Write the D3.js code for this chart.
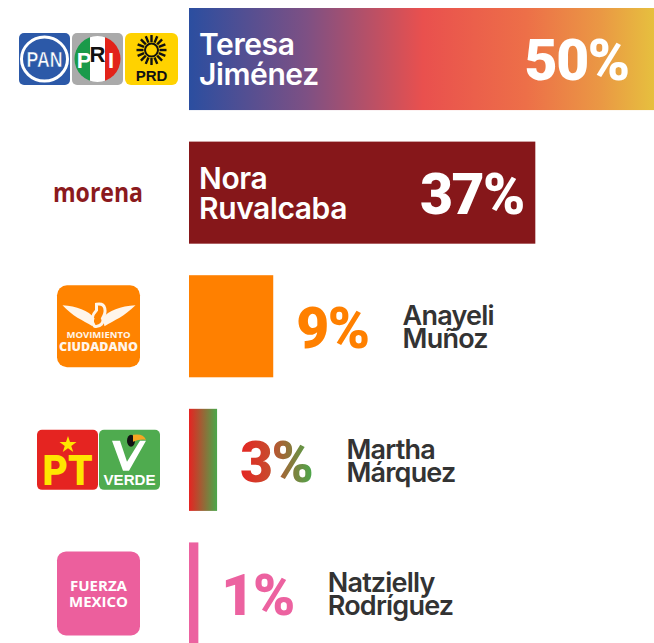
<!DOCTYPE html>
<html>
<head>
<meta charset="utf-8">
<script src="https://cdn.jsdelivr.net/npm/d3@7"></script>
<style>
  body { margin: 0; background: #fff; }
  svg { display: block; }
</style>
</head>
<body>
<div id="chart"></div>
<script>
(function() {
    // candidates, top to bottom
    var firstNames = ['Teresa', 'Nora', 'Anayeli', 'Martha', 'Natzielly'];
    var lastNames = ['Jiménez', 'Ruvalcaba', 'Muñoz', 'Márquez', 'Rodríguez'];
    var parties = ['PAN-PRI-PRD', 'Morena', 'MC', 'PT-PVEM', 'FXM'];
    var shares = [50, 37, 9, 3, 1];

    var WIDTH = 654, HEIGHT = 643;
    var BAR_LEFT = 189;
    var NAME_FONT = 'Inter, "Open Sans", sans-serif';
    var PCT_FONT = 'Roboto, Lato, sans-serif';
    var PCT_SPACING = -1.5;

    var fills = {
        'PAN-PRI-PRD': 'url(#gradAlianza)',
        'Morena': '#86171a',
        'MC': '#ff8000',
        'PT-PVEM': 'url(#gradPT)',
        'FXM': '#ec62a0'
    };
    var pctColors = {
        'MC': '#ff8000',
        'PT-PVEM': 'url(#gradPTText)',
        'FXM': '#ec62a0'
    };

    var rows = parties.map(function(p, i) {
        return {party: p, first: firstNames[i], last: lastNames[i], value: shares[i]};
    });

    var x = d3.scaleLinear().domain([0, 50]).range([BAR_LEFT, BAR_LEFT + 468]);
    var y = d3.scaleBand().domain(parties).range([8, 644.5]).paddingInner(0.236).paddingOuter(0);

    var svg = d3.select('#chart').append('svg')
        .attr('width', WIDTH)
        .attr('height', HEIGHT);

    var defs = svg.append('defs');
    var g1 = defs.append('linearGradient').attr('id', 'gradAlianza');
    [['0%', '#2b4ea0'], ['25%', '#7d5084'], ['50%', '#e9504e'], ['72%', '#ed6f48'], ['88%', '#ea9844'], ['100%', '#e6c23e']]
        .forEach(function(s) { g1.append('stop').attr('offset', s[0]).attr('stop-color', s[1]); });
    var g2 = defs.append('linearGradient').attr('id', 'gradPT');
    g2.append('stop').attr('offset', '0%').attr('stop-color', '#e52422');
    g2.append('stop').attr('offset', '100%').attr('stop-color', '#4aa84b');
    var g3 = defs.append('linearGradient').attr('id', 'gradPTText');
    g3.append('stop').attr('offset', '0%').attr('stop-color', '#e52422');
    g3.append('stop').attr('offset', '40%').attr('stop-color', '#c94a2d');
    g3.append('stop').attr('offset', '100%').attr('stop-color', '#4aa84b');

    // bars
    svg.selectAll('rect.bar')
        .data(rows)
        .enter().append('rect')
        .attr('class', 'bar')
        .attr('x', x(0))
        .attr('y', function(d) { return y(d.party); })
        .attr('width', function(d) { return x(d.value) - x(0); })
        .attr('height', y.bandwidth())
        .attr('fill', function(d) { return fills[d.party]; });

    // heavy percentage label
    function pctLabel(parent, d, color) {
        return parent.append('text')
            .attr('fill', color)
            .style('font-family', PCT_FONT)
            .style('font-weight', 900)
            .style('font-size', '57px')
            .style('letter-spacing', PCT_SPACING + 'px')
            .text(d.value + '%');
    }

    // labels
    rows.forEach(function(d) {
        var cy = y(d.party) + y.bandwidth() / 2;
        var inside = d.value >= 30;
        var g = svg.append('g');

        if (inside) {
            var nameText = g.append('text')
                .attr('x', x(0) + 10)
                .attr('y', cy - 4)
                .attr('fill', '#fff')
                .style('font-family', NAME_FONT)
                .style('font-weight', 600)
                .style('font-size', '30px')
                .style('letter-spacing', '-0.4px');
            nameText.append('tspan').text(d.first);
            nameText.append('tspan').attr('x', x(0) + 10).attr('dy', 30).text(d.last);

            pctLabel(g, d, '#fff')
                .attr('x', Math.min(x(d.value), WIDTH - 14) - 13 - PCT_SPACING)
                .attr('y', cy + 21)
                .attr('text-anchor', 'end');
        } else {
            var pctX = x(d.value) + 23;
            var pct = pctLabel(g, d, pctColors[d.party])
                .attr('x', pctX)
                .attr('y', cy + 22);
            var pctEnd = pctX + pct.node().getComputedTextLength();

            var outName = g.append('text')
                .attr('x', pctEnd + 34)
                .attr('y', cy - 1)
                .attr('fill', '#333')
                .style('font-family', NAME_FONT)
                .style('font-weight', 600)
                .style('font-size', '27px')
                .style('letter-spacing', '-0.8px');
            outName.append('tspan').text(d.first);
            outName.append('tspan').attr('x', pctEnd + 34).attr('dy', 23).text(d.last);
        }
    });

    // party logos (drawn shapes)
    var logos = svg.append('g').attr('class', 'logos');

    function logoText(parent, tx, ty, str, size, color, weight, family) {
        return parent.append('text')
            .attr('x', tx).attr('y', ty)
            .attr('text-anchor', 'middle')
            .attr('fill', color)
            .style('font-family', family || '"Liberation Sans", Arial, sans-serif')
            .style('font-weight', weight || 700)
            .style('font-size', size + 'px')
            .text(str);
    }

    function drawAlianza(cy) {
        var top = cy - 26;
        // PAN
        logos.append('rect').attr('x', 19).attr('y', top).attr('width', 51).attr('height', 52).attr('rx', 5).attr('fill', '#2c59a8');
        logos.append('ellipse').attr('cx', 44.5).attr('cy', cy).attr('rx', 23).attr('ry', 22)
            .attr('fill', 'none').attr('stroke', '#fff').attr('stroke-width', 3);
        logoText(logos, 44.5, cy + 8, 'PAN', 22, '#fff', 700)
            .attr('textLength', 36).attr('lengthAdjust', 'spacingAndGlyphs')
            .attr('stroke', '#2c59a8').attr('stroke-width', 0.6);
        // PRI
        logos.append('rect').attr('x', 72).attr('y', top).attr('width', 51).attr('height', 52).attr('rx', 5).attr('fill', '#aaa');
        var clipId = 'priClip';
        defs.append('clipPath').attr('id', clipId).append('circle').attr('cx', 97.5).attr('cy', cy).attr('r', 23);
        var pri = logos.append('g').attr('clip-path', 'url(#' + clipId + ')');
        pri.append('rect').attr('x', 74).attr('y', top).attr('width', 16).attr('height', 52).attr('fill', '#1a9a4a');
        pri.append('rect').attr('x', 90).attr('y', top).attr('width', 15).attr('height', 52).attr('fill', '#fff');
        pri.append('rect').attr('x', 105).attr('y', top).attr('width', 18).attr('height', 52).attr('fill', '#e2231a');
        logoText(logos, 84, cy + 9, 'P', 22, '#fff', 700);
        logoText(logos, 97.5, cy + 3, 'R', 22, '#111', 700);
        logoText(logos, 111, cy + 9, 'I', 22, '#fff', 700);
        // PRD
        logos.append('rect').attr('x', 125).attr('y', top).attr('width', 53).attr('height', 52).attr('rx', 6).attr('fill', '#ffd200');
        var sx = 151.5, sy = cy - 9;
        d3.range(16).forEach(function(k) {
            var a = k * Math.PI / 8;
            logos.append('line')
                .attr('x1', sx + Math.cos(a) * 8).attr('y1', sy + Math.sin(a) * 8)
                .attr('x2', sx + Math.cos(a) * 15).attr('y2', sy + Math.sin(a) * 15)
                .attr('stroke', '#111').attr('stroke-width', 2.4);
        });
        logos.append('circle').attr('cx', sx).attr('cy', sy).attr('r', 6.5).attr('fill', '#ffd200').attr('stroke', '#111').attr('stroke-width', 2);
        logoText(logos, 151.5, cy + 22, 'PRD', 15, '#111', 700);
    }

    function drawMorena(cy) {
        logoText(logos, 98, cy + 9, 'morena', 27, '#8b1a1d', 700, '"Open Sans", sans-serif')
            .attr('textLength', 90).attr('lengthAdjust', 'spacingAndGlyphs');
    }

    function drawMC(cy) {
        var top = cy - 41;
        logos.append('rect').attr('x', 57).attr('y', top).attr('width', 83).attr('height', 82).attr('rx', 10).attr('fill', '#ff8300');
        var ex = 98.5, ey = cy - 12;
        // eagle wings
        logos.append('path')
            .attr('d', 'M' + (ex - 36) + ',' + (ey - 9) +
                ' C' + (ex - 22) + ',' + (ey - 8) + ' ' + (ex - 10) + ',' + (ey - 4) + ' ' + (ex - 4) + ',' + (ey + 4) +
                ' L' + (ex - 6) + ',' + (ey + 12) +
                ' C' + (ex - 16) + ',' + (ey + 6) + ' ' + (ex - 26) + ',' + (ey + 2) + ' ' + (ex - 36) + ',' + (ey - 9) + 'Z' +
                ' M' + (ex + 37) + ',' + (ey - 9) +
                ' C' + (ex + 22) + ',' + (ey - 8) + ' ' + (ex + 10) + ',' + (ey - 4) + ' ' + (ex + 4) + ',' + (ey + 4) +
                ' L' + (ex + 6) + ',' + (ey + 12) +
                ' C' + (ex + 16) + ',' + (ey + 6) + ' ' + (ex + 26) + ',' + (ey + 2) + ' ' + (ex + 37) + ',' + (ey - 9) + 'Z')
            .attr('fill', '#fff5ea');
        logos.append('path')
            .attr('d', 'M' + (ex - 2) + ',' + (ey - 10) +
                ' C' + (ex + 8) + ',' + (ey - 12) + ' ' + (ex + 8) + ',' + (ey - 2) + ' ' + (ex + 4) + ',' + (ey + 4) +
                ' C' + (ex + 6) + ',' + (ey + 8) + ' ' + (ex + 2) + ',' + (ey + 13) + ' ' + (ex - 4) + ',' + (ey + 12) +
                ' C' + (ex - 8) + ',' + (ey + 6) + ' ' + (ex - 6) + ',' + (ey) + ' ' + (ex - 2) + ',' + (ey - 4) + 'Z')
            .attr('fill', 'none').attr('stroke', '#fff5ea').attr('stroke-width', 3);
        logoText(logos, 98.5, cy + 12, 'MOVIMIENTO', 9.5, '#fff5ea', 700, '"Open Sans", sans-serif');
        logoText(logos, 98.5, cy + 25, 'CIUDADANO', 12.5, '#fff5ea', 800, '"Open Sans", sans-serif');
    }

    function drawPT(cy) {
        var top = cy - 30;
        // PT
        logos.append('rect').attr('x', 37).attr('y', top).attr('width', 61).attr('height', 60).attr('rx', 5).attr('fill', '#e52421');
        var star = d3.symbol().type(d3.symbolStar).size(90);
        logos.append('path').attr('d', star()).attr('transform', 'translate(68,' + (cy - 15) + ')').attr('fill', '#ffe600');
        logoText(logos, 67.5, cy + 25, 'PT', 42, '#ffe600', 900, 'Roboto, Lato, sans-serif')
            .attr('textLength', 50).attr('lengthAdjust', 'spacingAndGlyphs');
        // Verde
        logos.append('rect').attr('x', 99).attr('y', top).attr('width', 61).attr('height', 60).attr('rx', 5).attr('fill', '#4fab4f');
        logos.append('path')
            .attr('d', 'M' + 112 + ',' + (cy - 19) + ' L' + 120 + ',' + (cy - 19) + ' L' + 127 + ',' + (cy + 2) +
                ' L' + 140 + ',' + (cy - 19) + ' L' + 146 + ',' + (cy - 19) + ' L' + 129 + ',' + (cy + 11) + ' L' + 123 + ',' + (cy + 11) + 'Z')
            .attr('fill', '#fff');
        logos.append('ellipse').attr('cx', 131).attr('cy', cy - 19).attr('rx', 4).attr('ry', 6).attr('fill', '#111');
        logos.append('path')
            .attr('d', 'M133,' + (cy - 25) + ' Q143,' + (cy - 27) + ' 146,' + (cy - 20) + ' Q140,' + (cy - 21) + ' 133,' + (cy - 18) + 'Z')
            .attr('fill', '#f5a623');
        logoText(logos, 129.5, cy + 25, 'VERDE', 15, '#fff', 700)
            .attr('textLength', 52).attr('lengthAdjust', 'spacingAndGlyphs');
    }

    function drawFXM(cy) {
        var top = cy - 42;
        logos.append('rect').attr('x', 57).attr('y', top).attr('width', 83).attr('height', 84).attr('rx', 9).attr('fill', '#ec5f9d');
        var fx = logos.append('text')
            .attr('text-anchor', 'middle')
            .attr('fill', '#fff')
            .style('font-family', '"Open Sans", sans-serif')
            .style('font-weight', 700)
            .style('font-size', '15px');
        fx.append('tspan').attr('x', 98.5).attr('y', cy - 2).text('FUERZA');
        fx.append('tspan').attr('x', 98.5).attr('y', cy + 14).text('MEXICO');
    }

    var drawers = {'PAN-PRI-PRD': drawAlianza, 'Morena': drawMorena, 'MC': drawMC, 'PT-PVEM': drawPT, 'FXM': drawFXM};
    rows.forEach(function(d) {
        drawers[d.party](y(d.party) + y.bandwidth() / 2);
    });
})();
</script>
</body>
</html>
